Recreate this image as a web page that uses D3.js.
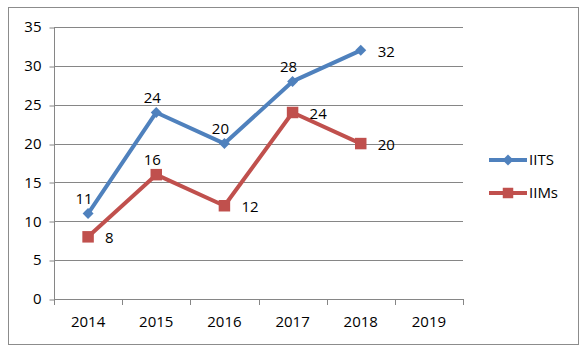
<!DOCTYPE html>
<html><head><meta charset="utf-8">
<script src="https://cdn.jsdelivr.net/npm/d3@7"></script>
<style>body{margin:0;background:#fff}svg{display:block}text{font-family:"Open Sans",sans-serif;fill:#000}</style>
</head><body><svg id="c" width="588" height="357"></svg>
<script>
const years = ["2014","2015","2016","2017","2018","2019"];
const iits = [11,24,20,28,32];
const iims = [8,16,12,24,20];
const yTicks = [0,5,10,15,20,25,30,35];
const iitsLabelPos = ["above","above","above","above","right"];
const iimsLabelPos = ["right","above","right","right","right"];

const svg = d3.select("#c");
const blue = "#4F81BD", red = "#C0504D", grid = "#868686";
svg.append("rect").attr("x",8.5).attr("y",7.5).attr("width",570).attr("height",337)
  .attr("fill","#fff").attr("stroke","#8c8c8c");

const x = d3.scaleBand().domain(years).range([54,463]).paddingInner(0).paddingOuter(0);
const y = d3.scaleLinear().domain([0,35]).range([299,27]);
const cx = d => x(d) + x.bandwidth()/2;

// gridlines
svg.append("g").selectAll("line").data(yTicks.filter(t=>t>0)).join("line")
  .attr("x1",54).attr("x2",463).attr("y1",d=>Math.round(y(d))+0.5).attr("y2",d=>Math.round(y(d))+0.5)
  .attr("stroke",grid).attr("stroke-width",1);

// y axis
const ya = svg.append("g").attr("transform","translate(54.5,0)")
  .call(d3.axisLeft(y).tickValues(yTicks).tickSize(5).tickPadding(8));
ya.select(".domain").attr("stroke",grid).attr("d","M0,27V299.5");
ya.selectAll(".tick line").attr("stroke",grid).attr("transform",d=>`translate(0,${Math.round(y(d))+0.5-y(d)})`);
ya.selectAll(".tick text").attr("font-size","15px").attr("font-family","Open Sans").attr("fill","#000");

// x axis
const xa = svg.append("g").attr("transform","translate(0,299.5)")
  .call(d3.axisBottom(x).tickSize(0).tickPadding(17));
xa.select(".domain").attr("stroke",grid).attr("d","M54,0H463");
xa.selectAll(".tick text").attr("font-size","15px").attr("font-family","Open Sans").attr("fill","#000");
// category boundary ticks
svg.append("g").selectAll("line").data(years.concat(["end"])).join("line")
  .attr("x1",(d,i)=>Math.round(54 + i*x.bandwidth())+0.5).attr("x2",(d,i)=>Math.round(54 + i*x.bandwidth())+0.5)
  .attr("y1",299).attr("y2",305).attr("stroke",grid);

function series(vals, color, shape, labelPos){
  const pts = vals.map((v,i)=>({x:cx(years[i]), y:y(v), v, pos:labelPos[i]}));
  svg.append("path").datum(pts)
    .attr("d", d3.line().x(d=>d.x).y(d=>d.y))
    .attr("fill","none").attr("stroke",color).attr("stroke-width",4).attr("stroke-linejoin","round");
  const sym = d3.symbol().type(shape==="diamond"?d3.symbolDiamond2:d3.symbolSquare2)
    .size(shape==="diamond"?70:110);
  svg.append("g").selectAll("path").data(pts).join("path")
    .attr("transform",d=>`translate(${d.x},${d.y})`)
    .attr("d", shape==="diamond" ? d3.symbol().type(d3.symbolSquare).size(60)() : d3.symbol().type(d3.symbolSquare).size(132)())
    .attr("transform",d=>`translate(${d.x},${d.y})` + (shape==="diamond"?" rotate(45)":""))
    .attr("fill",color);
  svg.append("g").selectAll("text").data(pts).join("text")
    .attr("x",d=>d.pos==="above"? d.x-4 : d.x+17)
    .attr("y",d=>d.pos==="above"? d.y-15 : d.y+1)
    .attr("dy","0.35em")
    .attr("text-anchor",d=>d.pos==="above"?"middle":"start")
    .attr("font-size","15px")
    .text(d=>d.v);
}
series(iits, blue, "diamond", iitsLabelPos);
series(iims, red, "square", iimsLabelPos);

// legend
const legend = [{name:"IITS",color:blue,shape:"diamond",y:160},{name:"IIMs",color:red,shape:"square",y:193}];
const lg = svg.append("g").selectAll("g").data(legend).join("g");
lg.append("line").attr("x1",489).attr("x2",527).attr("y1",d=>d.y).attr("y2",d=>d.y)
  .attr("stroke",d=>d.color).attr("stroke-width",4);
lg.append("path")
  .attr("d",d=>d3.symbol().type(d3.symbolSquare).size(d.shape==="diamond"?60:110)())
  .attr("transform",d=>`translate(508,${d.y})`+(d.shape==="diamond"?" rotate(45)":""))
  .attr("fill",d=>d.color);
lg.append("text").attr("x",529).attr("y",d=>d.y).attr("dy","0.35em").attr("font-size","15px").text(d=>d.name);
</script></body></html>
